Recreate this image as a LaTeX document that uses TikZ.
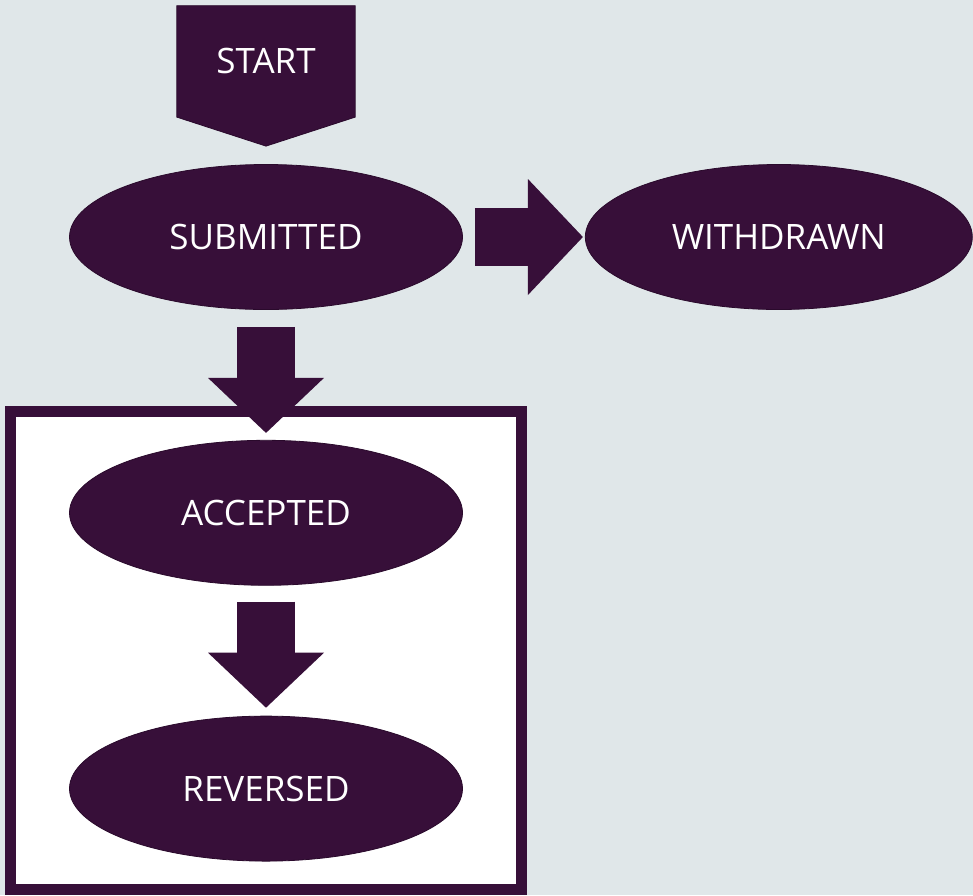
\documentclass[tikz,border=0pt]{standalone}
\usepackage{fontspec}
\setmainfont{Open Sans}
\usepackage{xcolor}
\definecolor{plum}{HTML}{370F39}
\definecolor{plumline}{HTML}{2A0A2C}
\definecolor{slate}{HTML}{E0E7E9}
\usepackage{tikz}
\usetikzlibrary{arrows.meta,positioning,shapes.geometric,calc,fit,backgrounds}
\tikzset{
  lbl/.style={text=white, font=\fontsize{35}{42}\selectfont, inner sep=0pt},
  st/.style={lbl, ellipse, fill=plum, draw=plumline, line width=0.8pt,
             minimum width=393pt, minimum height=145pt},
  startbox/.style={lbl, minimum width=178pt, minimum height=111pt},
  shp/.style={fill=plum, draw=plumline, line width=0.8pt},
  grp/.style={draw=plum, fill=white, line width=11pt, inner xsep=58.5pt, inner ysep=28pt},
  bar/.style={draw=plum, line width=58pt,
              -{Triangle[length=55pt, width=116pt, line width=0pt]}},
}
\begin{document}
\begin{tikzpicture}[node distance=130pt and 122pt]
  \useasboundingbox (0,0) rectangle (973pt,-895pt);
  \node[st] (sub) at (266pt,-237pt) {SUBMITTED};
  \node[startbox, above=47pt of sub] (start) {START};
  \node[st, minimum width=387pt, right=of sub] (wd) {WITHDRAWN};
  \node[st, below=of sub] (acc) {ACCEPTED};
  \node[st, below=of acc] (rev) {REVERSED};
  \draw[bar, shorten <=12pt, shorten >=2pt] (sub) -- (wd);
  \draw[bar, shorten <=17pt, shorten >=7pt] (sub) -- (acc);
  \draw[bar, shorten <=16pt, shorten >=8pt] (acc) -- (rev);
  \begin{scope}[on background layer]
    \fill[slate] (0,0) rectangle (973pt,-895pt);
    \filldraw[shp] (start.north west) -- (start.north east) -- (start.south east)
      -- ($(start.south)+(0,-29pt)$) -- (start.south west) -- cycle;
    \node[grp, fit=(acc)(rev)] (box) {};
  \end{scope}
\end{tikzpicture}
\end{document}
